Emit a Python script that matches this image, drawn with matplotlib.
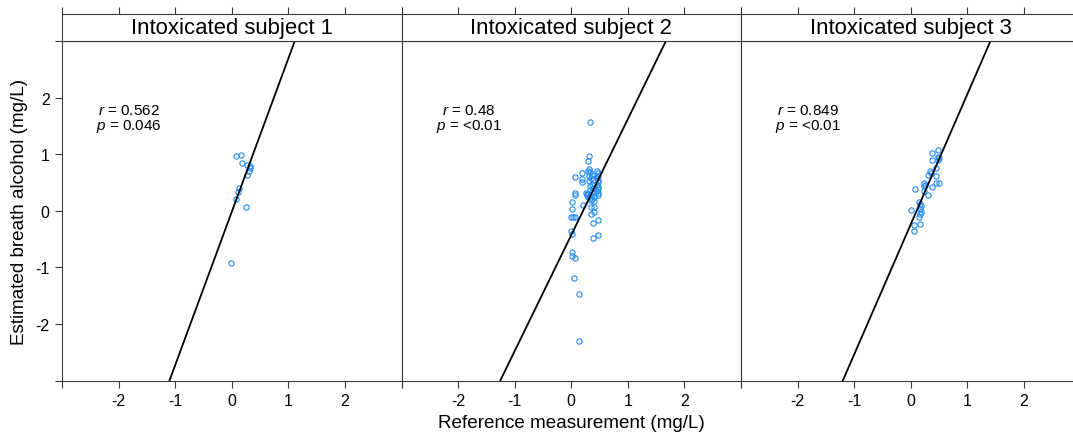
import matplotlib
matplotlib.use('Agg')
import matplotlib.pyplot as plt

plt.rcParams['font.family'] = ['Liberation Sans', 'DejaVu Sans']
plt.rcParams['mathtext.fontset'] = 'custom'
plt.rcParams['mathtext.rm'] = 'Liberation Sans'
plt.rcParams['mathtext.it'] = 'Liberation Sans:italic'

# ==========================
# data
# ==========================
titles = ['Intoxicated subject 1', 'Intoxicated subject 2', 'Intoxicated subject 3']
r_labels = ['0.562', '0.48', '0.849']
p_labels = ['0.046', '<0.01', '<0.01']

# fitted line per panel: slope, intercept
slopes = [2.71, 2.05, 2.30]
intercepts = [-0.02, -0.43, -0.24]

ref1 = [0.083, 0.171, 0.189, 0.270, 0.330, 0.330, 0.312, 0.277, 0.124, 0.111, 0.083, 0.247, -0.012]
est1 = [0.961, 0.978, 0.837, 0.807, 0.795, 0.749, 0.701, 0.631, 0.402, 0.326, 0.207, 0.061, -0.927]

ref2 = [0.332, 0.314, 0.303, 0.191, 0.067, 0.191, 0.191, 0.067, 0.067, 0.203, 0.021, 0.021,
        -0.009, 0.039, 0.074, -0.009, 0.009, 0.021, 0.009, 0.074, 0.050, 0.138, 0.138,
        0.344, 0.397, 0.403, 0.350, 0.468, 0.380, 0.468, 0.380, 0.374, 0.403, 0.344,
        0.46, 0.48, 0.47, 0.46, 0.48, 0.47, 0.46, 0.48, 0.47, 0.46, 0.48, 0.47,
        0.33, 0.36, 0.31, 0.35, 0.38, 0.32, 0.36, 0.34, 0.38, 0.33, 0.37, 0.35, 0.40,
        0.26, 0.28, 0.27, 0.30, 0.29, 0.30, 0.31]
est2 = [1.561, 0.966, 0.878, 0.672, 0.590, 0.555, 0.502, 0.319, 0.272, 0.107, 0.154, 0.025,
        -0.105, -0.105, -0.105, -0.363, -0.410, -0.733, -0.798, -0.840, -1.190, -1.480, -2.300,
        0.060, 0.060, -0.030, -0.060, -0.170, -0.220, -0.430, -0.490, 0.207, 0.177, 0.190,
        0.70, 0.66, 0.62, 0.58, 0.55, 0.50, 0.46, 0.42, 0.38, 0.35, 0.31, 0.28,
        0.68, 0.64, 0.62, 0.58, 0.55, 0.52, 0.47, 0.43, 0.40, 0.36, 0.33, 0.28, 0.24,
        0.32, 0.30, 0.27, 0.29, 0.25, 0.70, 0.73]

ref3 = [0.482, 0.371, 0.482, 0.494, 0.476, 0.371, 0.446, 0.348, 0.365, 0.305, 0.453, 0.453,
        0.494, 0.371, 0.242, 0.252, 0.235, 0.076, 0.305, 0.235, 0.146, 0.171, 0.176, 0.164,
        0.182, 0.171, 0.154, 0.012, 0.058, 0.164, 0.058]
est3 = [1.067, 1.014, 0.954, 0.925, 0.890, 0.901, 0.749, 0.696, 0.661, 0.626, 0.608, 0.495,
        0.495, 0.414, 0.484, 0.454, 0.442, 0.384, 0.283, 0.354, 0.149, 0.114, 0.079, 0.031,
        -0.017, -0.057, -0.105, 0.008, -0.251, -0.234, -0.363]

refs = [ref1, ref2, ref3]
ests = [est1, est2, est3]

ticks = [-3, -2, -1, 0, 1, 2, 3]
tick_labels = ['', '-2', '-1', '0', '1', '2', '']

# ==========================
# layout (lattice style, pixel positions)
# ==========================
W, H = 1073, 435
fig = plt.figure(figsize=(W / 100, H / 100), dpi=100)

line_col = '#3a3a3a'
panel_left = [62, 401.5, 741]
panel_w = 339.5
panel_top, panel_bot = 42, 381.5
strip_top = 15

for i in range(3):
    x0 = panel_left[i] / W
    ax = fig.add_axes([x0, (H - panel_bot) / H, panel_w / W, (panel_bot - panel_top) / H])
    st = fig.add_axes([x0, (H - panel_top) / H, panel_w / W, (panel_top - strip_top) / H])

    # points and line
    ax.plot(refs[i], ests[i], linestyle='none', marker='o', ms=3.8, mfc='none',
            mec='#1a8cff', mew=0.8)
    ax.axline((0, intercepts[i]), slope=slopes[i], color='black', lw=1.3)

    ax.set_xlim(-3, 3)
    ax.set_ylim(-3, 3)
    ax.set_xticks(ticks)
    ax.set_xticklabels(tick_labels)
    ax.tick_params(axis='x', direction='out', length=5, width=0.8, color=line_col,
                   labelsize=11.5, pad=4)
    if i == 0:
        ax.set_yticks(ticks)
        ax.set_yticklabels(tick_labels)
        ax.tick_params(axis='y', direction='out', length=5, width=0.8, color=line_col,
                       labelsize=11.5, pad=4)
    else:
        ax.set_yticks([])
    for s in ax.spines.values():
        s.set_color(line_col)
        s.set_linewidth(0.8)

    ax.text(-1.81, 1.78, r'$r$ = ' + r_labels[i], ha='center', va='center', fontsize=11)
    ax.text(-1.81, 1.51, r'$p$ = ' + p_labels[i], ha='center', va='center', fontsize=11)

    # strip on top
    st.set_xlim(-3, 3)
    st.set_ylim(0, 1)
    st.set_xticks(ticks)
    st.set_xticklabels([])
    st.xaxis.tick_top()
    st.tick_params(axis='x', direction='out', length=5, width=0.8, color=line_col)
    st.set_yticks([])
    for s in st.spines.values():
        s.set_color(line_col)
        s.set_linewidth(0.8)
    st.text(0, 0.5, titles[i], ha='center', va='center', fontsize=15.9)

fig.text(571 / W, (H - 424) / H, 'Reference measurement (mg/L)', ha='center', va='center',
         fontsize=13.6)
fig.text(20 / W, (H - 211.75) / H, 'Estimated breath alcohol (mg/L)', ha='center',
         va='center', rotation=90, fontsize=13.6)

fig.savefig('out.png', dpi=100)
